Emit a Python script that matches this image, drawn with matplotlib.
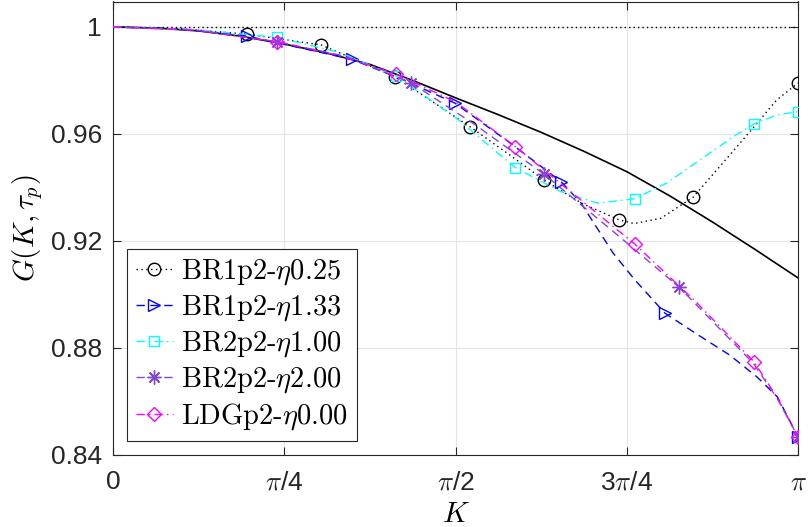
import numpy as np
import matplotlib
matplotlib.use("Agg")
import matplotlib.pyplot as plt

plt.rcParams['mathtext.fontset'] = 'cm'
plt.rcParams['font.family'] = ['Liberation Sans', 'DejaVu Sans']
plt.rcParams['axes.unicode_minus'] = False

PI = np.pi

# ---- data (K given in units of pi) ----
exact_k = [0.0, 0.0625, 0.125, 0.1875, 0.25, 0.3125, 0.375, 0.4375, 0.5, 0.5625,
           0.625, 0.6875, 0.75, 0.8125, 0.875, 0.9375, 1.0]
exact_g = [1.0, 0.9996, 0.9985, 0.9965, 0.9936, 0.9902, 0.9860, 0.9800, 0.9735, 0.9672,
           0.9606, 0.9535, 0.9459, 0.9369, 0.9271, 0.9168, 0.9062]

s1_k = [0.0, 0.10, 0.1956, 0.3036, 0.4117, 0.5212, 0.5750, 0.6292, 0.6840, 0.7387,
        0.7610, 0.8000, 0.8467, 0.8813, 0.9299, 0.9689, 1.0]
s1_g = [1.0, 0.9993, 0.9973, 0.9933, 0.9814, 0.9627, 0.9529, 0.9428, 0.9341, 0.9279,
        0.9265, 0.9285, 0.9363, 0.9465, 0.9609, 0.9727, 0.9790]
s1_m = [2, 3, 4, 5, 7, 9, 12, 16]

s2_k = [0.0, 0.10, 0.1956, 0.3485, 0.4240, 0.4993, 0.5767, 0.6540, 0.6832, 0.7300,
        0.7620, 0.8058, 0.8540, 0.9000, 0.9400, 0.9700, 1.0]
s2_g = [1.0, 0.9992, 0.9966, 0.9879, 0.9802, 0.9715, 0.9572, 0.9422, 0.9342, 0.9155,
        0.9054, 0.8930, 0.8849, 0.8774, 0.8692, 0.8617, 0.8468]
s2_m = [2, 3, 5, 7, 11, 16]

s3_k = [0.0, 0.12, 0.2390, 0.3300, 0.4131, 0.5007, 0.5873, 0.6540, 0.7080, 0.7615,
        0.8088, 0.8569, 0.9051, 0.9356, 0.9693, 1.0]
s3_g = [1.0, 0.9990, 0.9961, 0.9905, 0.9817, 0.9660, 0.9474, 0.9384, 0.9341, 0.9358,
        0.9417, 0.9503, 0.9589, 0.9637, 0.9671, 0.9683]
s3_m = [2, 4, 6, 9, 13, 15]

s4_k = [0.0, 0.12, 0.2390, 0.3400, 0.4346, 0.5300, 0.6296, 0.7300, 0.8267, 0.9350,
        0.9700, 1.0]
s4_g = [1.0, 0.9988, 0.9945, 0.9890, 0.9792, 0.9632, 0.9449, 0.9236, 0.9027, 0.8742,
        0.8610, 0.8468]
s4_m = [2, 4, 6, 8, 11]

s5_k = [0.0, 0.12, 0.2390, 0.3300, 0.4131, 0.5000, 0.5873, 0.6700, 0.7615, 0.8500,
        0.9356, 0.9700, 1.0]
s5_g = [1.0, 0.9988, 0.9945, 0.9893, 0.9824, 0.9720, 0.9553, 0.9380, 0.9189, 0.8975,
        0.8749, 0.8613, 0.8468]
s5_m = [2, 4, 6, 8, 10, 12]

labels = [r'BR1p2-$\eta$0.25', r'BR1p2-$\eta$1.33', r'BR2p2-$\eta$1.00',
          r'BR2p2-$\eta$2.00', r'LDGp2-$\eta$0.00']

xticks = [0.0, 0.25, 0.5, 0.75, 1.0]
xtick_labels = ['0', r'$\pi$/4', r'$\pi$/2', r'3$\pi$/4', r'$\pi$']
yticks = [0.84, 0.88, 0.92, 0.96, 1.0]
ytick_labels = ['0.84', '0.88', '0.92', '0.96', '1']

# ---- figure ----
fig = plt.figure(figsize=(8.10, 5.27), dpi=100)
ax = fig.add_axes([113/810, 1 - 455/527, 685/810, 453.5/527])

to_k = lambda a: np.asarray(a) * PI

ax.axhline(1.0, color='black', lw=1.0, ls=(0, (1, 2.2)), zorder=2)
ax.plot(to_k(exact_k), exact_g, color='black', lw=1.2, zorder=3)

lw = 1.0
ax.plot(to_k(s1_k), s1_g, color='black', ls=(0, (1, 2.5)), lw=lw, marker='o',
        ms=9, mfc='none', mew=1.0, markevery=s1_m, label=labels[0], zorder=4)
ax.plot(to_k(s2_k), s2_g, color='#0000ff', ls=(0, (6, 4)), lw=lw, marker='>',
        ms=9, mfc='none', mew=1.0, markevery=s2_m, label=labels[1], zorder=4)
ax.plot(to_k(s3_k), s3_g, color='#00ffff', ls=(0, (6, 3, 1, 3)), lw=lw, marker='s',
        ms=7, mfc='none', mew=1.0, markevery=s3_m, label=labels[2], zorder=4)
ax.plot(to_k(s4_k), s4_g, color='#8446d6', ls=(0, (6, 4)), lw=lw, marker=(8, 2, 0),
        ms=10, mfc='none', mew=1.0, markevery=s4_m, label=labels[3], zorder=4)
ax.plot(to_k(s5_k), s5_g, color='#ff00ff', ls=(0, (6, 3, 1, 3)), lw=lw, marker='D',
        ms=7, mfc='none', mew=1.0, markevery=s5_m, label=labels[4], zorder=4)

ax.set_xlim(0, PI)
ax.set_ylim(0.84, 1.0095)
ax.set_xticks(to_k(xticks))
ax.set_xticklabels(xtick_labels)
ax.set_yticks(yticks)
ax.set_yticklabels(ytick_labels)

ax.grid(True, color='#e3e3e3', lw=0.8, zorder=0)
ax.set_axisbelow(True)
ax.tick_params(direction='in', top=True, right=True, length=6, width=0.8,
               labelsize=19, colors='#262626', pad=8)
ax.tick_params(axis='x', pad=11)
for sp in ax.spines.values():
    sp.set_color('#262626')
    sp.set_linewidth(0.8)

ax.set_xlabel(r'$K$', fontsize=21, labelpad=4)
ax.set_ylabel(r'$G(K,\tau_p)$', fontsize=21, labelpad=4)

leg = ax.legend(loc='lower left', bbox_to_anchor=(14/685, 14/453.5),
                borderaxespad=0, fancybox=False, framealpha=1, edgecolor='#262626',
                handlelength=1.3, handletextpad=0.3, borderpad=0.3, labelspacing=0.22,
                numpoints=1, prop={'family': ['cmr10', 'DejaVu Serif'], 'size': 20.5})
leg.get_frame().set_linewidth(0.8)

fig.savefig('out.png', dpi=100)
